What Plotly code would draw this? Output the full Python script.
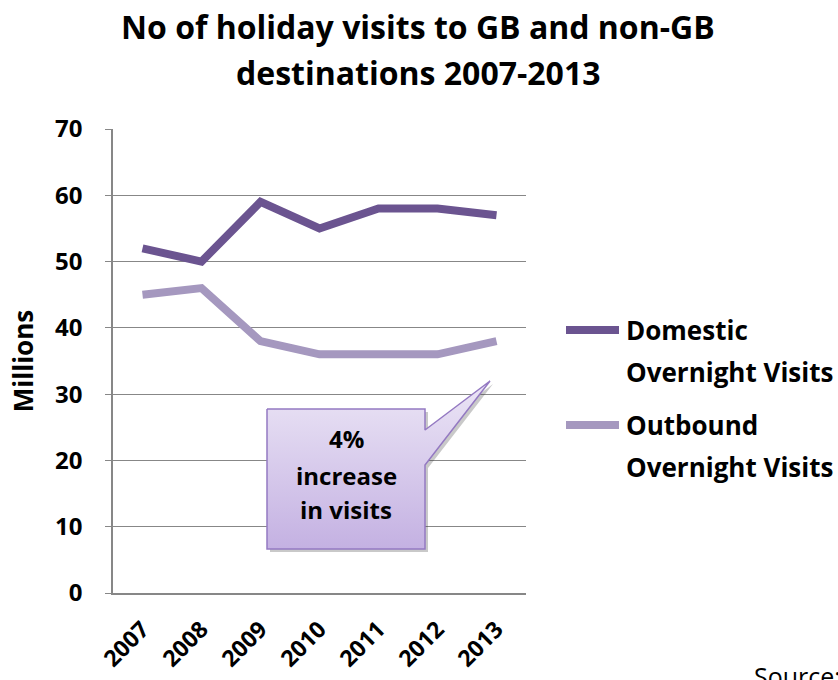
import plotly.graph_objects as go

# ---- data ----
years = ["2007", "2008", "2009", "2010", "2011", "2012", "2013"]
domestic = [52, 50, 59, 55, 58, 58, 57]
outbound = [45, 46, 38, 36, 36, 36, 38]
series_names = ["Domestic<br>Overnight Visits", "Outbound<br>Overnight Visits"]
series_colors = ["#6B5490", "#A598BF"]
callout_lines = ["4%", "increase", "in visits"]

FONT = "Open Sans, Calibri, sans-serif"

# figure geometry (pixels)
W, H = 838, 680
L, R, T, B = 113, 312, 129, 87
PW, PH = W - L - R, H - T - B

x_idx = list(range(len(years)))
Y_MAX = 70


def px_to_data(px, py):
    """Convert page pixel position into plot data coordinates."""
    x = -0.5 + (px - L) / PW * len(years)
    y = (T + PH - py) / PH * Y_MAX
    return x, y


def px_to_paper(px, py):
    return (px - L) / PW, (T + PH - py) / PH


def bold(size):
    return dict(family=FONT, size=size, color="#000000", weight="bold")


fig = go.Figure()

# callout box with pointer toward the 2013 outbound value
box_px = [(267, 409), (425, 409), (425, 430), (490, 381), (425, 465),
          (425, 549), (267, 549), (267, 409)]
shadow = [px_to_data(px + 3, py + 3) for px, py in box_px]
fig.add_trace(go.Scatter(
    x=[p[0] for p in shadow], y=[p[1] for p in shadow],
    mode="lines", fill="toself", line=dict(width=0, color="rgba(0,0,0,0)"),
    fillcolor="rgba(60,60,60,0.28)", hoverinfo="skip", showlegend=False))
box = [px_to_data(px, py) for px, py in box_px]
fig.add_trace(go.Scatter(
    x=[p[0] for p in box], y=[p[1] for p in box],
    mode="lines", fill="toself", line=dict(width=1.5, color="#9479C2"),
    fillgradient=dict(type="vertical",
                      colorscale=[[0, "#C4B1E2"], [1, "#ECE6F6"]]),
    hoverinfo="skip", showlegend=False))

# data lines
for vals, name, color in zip([domestic, outbound], series_names, series_colors):
    fig.add_trace(go.Scatter(
        x=x_idx, y=vals, mode="lines", name=name,
        line=dict(color=color, width=8), showlegend=False))

# callout text
for text, py in zip(callout_lines, [438, 475, 509]):
    cx, cy = px_to_data(346, py)
    fig.add_annotation(x=cx, y=cy, text=text, showarrow=False,
                       xanchor="center", yanchor="middle", font=bold(24))

# legend drawn beside the plot
for i, (name, color) in enumerate(zip(series_names, series_colors)):
    ly = 330 + i * 95
    x0, y0 = px_to_paper(566, ly)
    x1, _ = px_to_paper(619, ly)
    fig.add_shape(type="line", xref="paper", yref="paper", x0=x0, x1=x1,
                  y0=y0, y1=y0, line=dict(color=color, width=8))
    for j, part in enumerate(name.split("<br>")):
        tx, ty = px_to_paper(624, ly + j * 42)
        fig.add_annotation(xref="paper", yref="paper", x=tx, y=ty,
                           text=part, showarrow=False,
                           xanchor="left", yanchor="middle", font=bold(26))

# title
for text, py in zip(["No of holiday visits to GB and non-GB",
                     "destinations 2007-2013"], [27, 72]):
    tx, ty = px_to_paper(W / 2 - 1, py)
    fig.add_annotation(xref="paper", yref="paper", x=tx, y=ty,
                       text=text, showarrow=False,
                       xanchor="center", yanchor="middle", font=bold(32))

# source note, partly off the page edge
sx, sy = px_to_paper(752, 657)
fig.add_annotation(xref="paper", yref="paper", x=sx, y=sy, text="Source:",
                   showarrow=False, xanchor="left", yanchor="top",
                   font=dict(family=FONT, size=25, color="#000000"))

fig.update_layout(
    width=W, height=H,
    margin=dict(l=L, r=R, t=T, b=B, autoexpand=False),
    paper_bgcolor="white", plot_bgcolor="white",
    font=dict(family=FONT, color="#000000"),
)
fig.update_xaxes(
    range=[-0.5, len(years) - 0.5], tickmode="array", tickvals=x_idx,
    ticktext=years, tickangle=-45, tickfont=bold(23),
    showgrid=False, zeroline=False, showline=True, linecolor="#878787",
    linewidth=1.5, ticks="", ticklabelstandoff=12)
fig.update_yaxes(
    range=[0, Y_MAX], dtick=10, tickmode="linear", tickfont=bold(24),
    showgrid=True, gridcolor="#878787", gridwidth=1.3, zeroline=False,
    showline=True, linecolor="#878787", linewidth=1.5,
    ticks="outside", ticklen=6, tickcolor="#878787",
    ticklabelstandoff=18,
    title=dict(text="Millions", standoff=14, font=bold(26)))

fig.write_html("out.html")
